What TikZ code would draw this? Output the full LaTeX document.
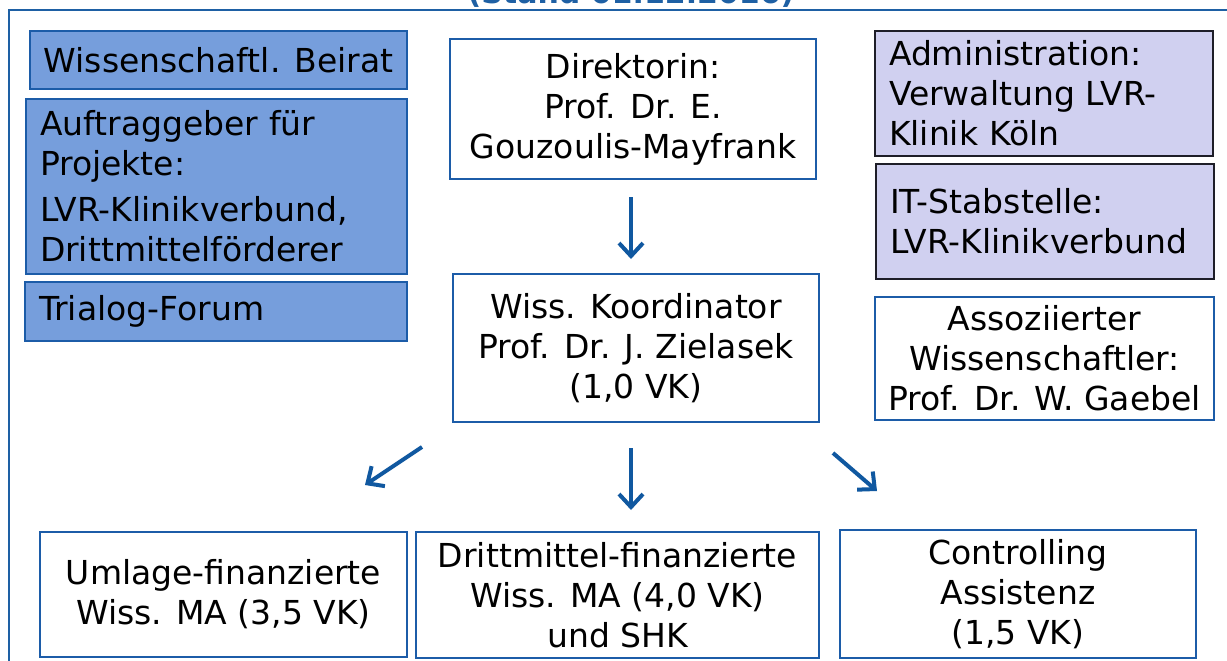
\documentclass[tikz,border=0pt]{standalone}
\usepackage{fontspec}
\setmainfont{DejaVu Sans}
\usetikzlibrary{arrows.meta}
\definecolor{frameblue}{RGB}{30,96,164}
\definecolor{boxblue}{RGB}{118,158,220}
\definecolor{boxline}{RGB}{28,92,168}
\definecolor{lav}{RGB}{208,208,240}
\definecolor{lavline}{RGB}{30,30,40}
\definecolor{arrowblue}{RGB}{16,88,160}
\begin{document}
\begin{tikzpicture}[x=1pt,y=-1pt,
  txt/.style={font=\fontsize{33}{40}\selectfont},
  bluebox/.style={txt,draw=boxline,fill=boxblue,line width=2pt,inner sep=0pt},
  lavbox/.style={txt,draw=lavline,fill=lav,line width=2pt,inner sep=0pt},
  whitebox/.style={txt,draw=boxline,fill=white,line width=1.6pt,inner sep=0pt},
  arr/.style={draw=arrowblue,line width=4pt,-{Straight Barb[length=13pt,width=24pt]}}]
\useasboundingbox (0,0) rectangle (1227,661);
\clip (0,0) rectangle (1227,661);
\fill[white] (0,0) rectangle (1227,661);
\node[font=\bfseries\fontsize{30}{36}\selectfont,text=frameblue,anchor=base] (stand) at (631,4) {(Stand 01.12.2016)};
\draw[frameblue,line width=2pt] (9,10) rectangle (1250,700);
% left column
\node[bluebox,minimum width=377,minimum height=58,align=center] (beirat) at (218.5,60) {Wissenschaftl. Beirat};
\node[bluebox,minimum width=381,minimum height=175,text width=353,align=left,inner xsep=14pt] (auftrag) at (216.5,186.5)
  {Auftraggeber für\\ Projekte:\\[6pt] LVR-Klinikverbund,\\ Drittmittelförderer};
\node[bluebox,minimum width=382,minimum height=59,text width=354,align=left,inner xsep=14pt] (trialog) at (216,311.5) {Trialog-Forum};
% right column
\node[lavbox,minimum width=338,minimum height=125,text width=310,align=left,inner xsep=14pt] (admin) at (1044,93.5)
  {Administration:\\ Verwaltung LVR-\\ Klinik Köln};
\node[lavbox,minimum width=338,minimum height=115,text width=310,align=left,inner xsep=14pt] (it) at (1045,221.5)
  {IT-Stabstelle:\\ LVR-Klinikverbund};
\node[whitebox,minimum width=339,minimum height=123,align=center] (assoz) at (1044.5,358.5)
  {Assoziierter\\ Wissenschaftler:\\ Prof. Dr. W. Gaebel};
% center
\node[whitebox,minimum width=366,minimum height=140,align=center] (dir) at (633,109)
  {Direktorin:\\ Prof. Dr. E.\\ Gouzoulis-Mayfrank};
\node[whitebox,minimum width=366,minimum height=148,align=center] (koord) at (636,348)
  {Wiss. Koordinator\\ Prof. Dr. J. Zielasek\\ (1,0 VK)};
% bottom
\node[whitebox,minimum width=367,minimum height=125,align=center] (umlage) at (223.5,594.5)
  {Umlage-finanzierte\\ Wiss. MA (3,5 VK)};
\node[whitebox,minimum width=403,minimum height=126,align=center] (dritt) at (617.5,595)
  {Drittmittel-finanzierte\\ Wiss. MA (4,0 VK)\\ und SHK};
\node[whitebox,minimum width=356,minimum height=128,align=center] (ctrl) at (1018,594)
  {Controlling\\ Assistenz\\ (1,5 VK)};
% arrows
\coordinate (a1s) at (631,197); \coordinate (a1e) at (631,259);
\coordinate (a2s) at (422,447); \coordinate (a2e) at (365,485);
\coordinate (a3s) at (631,448); \coordinate (a3e) at (631,510);
\coordinate (a4s) at (833,453); \coordinate (a4e) at (877,491);
\draw[arr] (a1s) -- (a1e);
\draw[arr] (a2s) -- (a2e);
\draw[arr] (a3s) -- (a3e);
\draw[arr] (a4s) -- (a4e);
\end{tikzpicture}
\end{document}
